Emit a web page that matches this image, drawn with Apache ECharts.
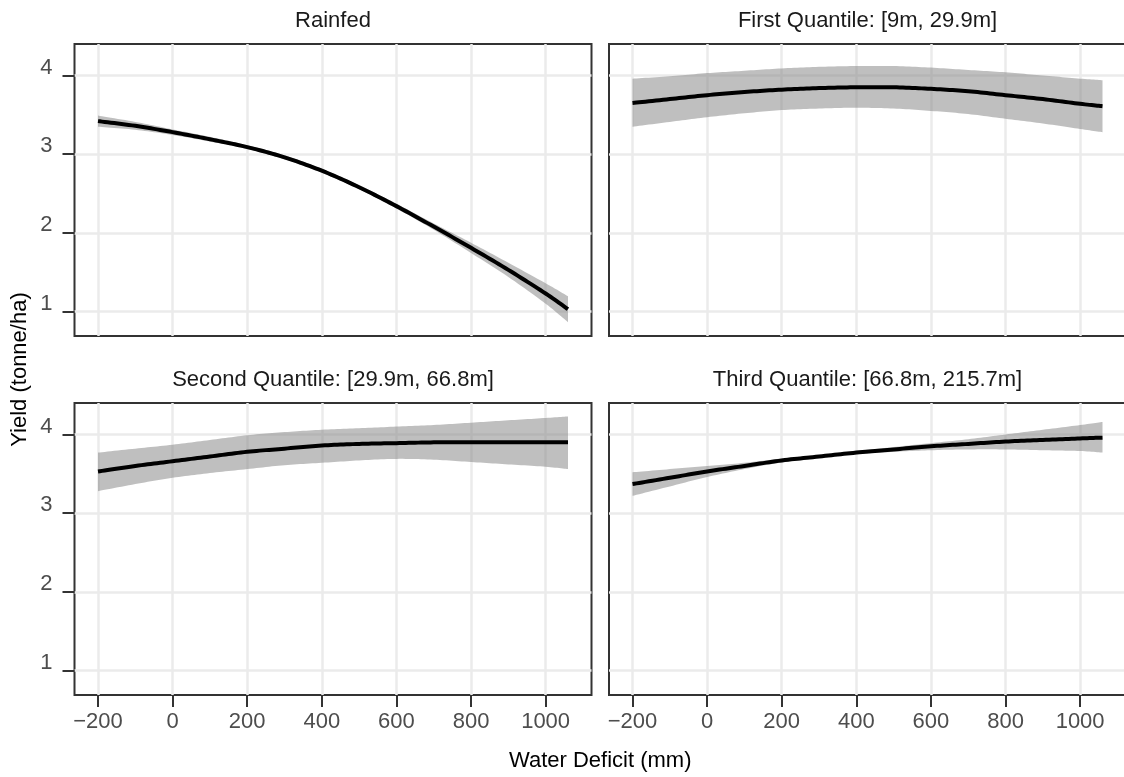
<!DOCTYPE html>
<html>
<head>
<meta charset="utf-8">
<script src="https://cdn.jsdelivr.net/npm/echarts@6/dist/echarts.min.js"></script>
<style>
html,body{margin:0;padding:0;background:#fff;}
#chart{width:1124px;height:777px;}
</style>
</head>
<body>
<div id="chart"></div>
<script>
// ---- data ----
const xValues = [-200,-100,0,100,200,300,400,500,600,700,800,900,1000,1060];
const panelTitles = ["Rainfed","First Quantile: [9m, 29.9m]","Second Quantile: [29.9m, 66.8m]","Third Quantile: [66.8m, 215.7m]"];
const xTicks = [-200,0,200,400,600,800,1000];
const yTicks = [1,2,3,4];

const fitRainfed = [3.42,3.36,3.28,3.19,3.09,2.96,2.79,2.58,2.34,2.08,1.81,1.53,1.23,1.03];
const loRainfed  = [3.35,3.31,3.245,3.16,3.065,2.935,2.765,2.555,2.31,2.04,1.745,1.44,1.10,0.865];
const hiRainfed  = [3.49,3.41,3.315,3.22,3.115,2.985,2.815,2.605,2.37,2.12,1.875,1.62,1.36,1.195];

const fitFirst = [3.65,3.70,3.75,3.79,3.82,3.84,3.85,3.85,3.83,3.80,3.75,3.70,3.64,3.61];
const loFirst  = [3.35,3.41,3.47,3.52,3.56,3.58,3.59,3.58,3.55,3.51,3.45,3.39,3.32,3.28];
const hiFirst  = [3.96,3.99,4.03,4.06,4.09,4.11,4.12,4.12,4.10,4.07,4.04,4.00,3.96,3.94];

const fitSecond = [3.53,3.60,3.66,3.72,3.78,3.82,3.86,3.88,3.89,3.90,3.90,3.90,3.90,3.90];
const loSecond  = [3.28,3.37,3.45,3.51,3.56,3.61,3.64,3.67,3.69,3.68,3.65,3.62,3.59,3.56];
const hiSecond  = [3.77,3.82,3.87,3.93,3.99,4.03,4.06,4.08,4.10,4.12,4.15,4.18,4.21,4.23];

const fitThird = [3.37,3.45,3.53,3.60,3.67,3.72,3.77,3.81,3.85,3.88,3.91,3.93,3.95,3.96];
const loThird  = [3.22,3.34,3.46,3.56,3.645,3.70,3.75,3.78,3.80,3.81,3.81,3.80,3.79,3.77];
const hiThird  = [3.52,3.56,3.60,3.64,3.695,3.74,3.79,3.84,3.89,3.94,4.00,4.06,4.12,4.16];

const fits = [fitRainfed, fitFirst, fitSecond, fitThird];
const los = [loRainfed, loFirst, loSecond, loThird];
const his = [hiRainfed, hiFirst, hiSecond, hiThird];

// ---- layout ----
const FONT = "'Liberation Sans', Arial, sans-serif";
const grids = [
  {left:74.5, top:44, width:517, height:292},
  {left:609, top:44, width:517, height:292},
  {left:74.5, top:403, width:517, height:292},
  {left:609, top:403, width:517, height:292}
];
const fmt = v => v < 0 ? '\u2212' + Math.abs(v) : String(v);

// Catmull-Rom sampling of pixel points (rendering geometry only)
function spline(pts, steps) {
  const out = [pts[0]];
  for (let i = 0; i < pts.length - 1; i++) {
    const p0 = pts[Math.max(i - 1, 0)], p1 = pts[i], p2 = pts[i + 1], p3 = pts[Math.min(i + 2, pts.length - 1)];
    for (let s = 1; s <= steps; s++) {
      const t = s / steps, t2 = t * t, t3 = t2 * t;
      const f = k => 0.5 * (2 * p1[k] + (-p0[k] + p2[k]) * t + (2 * p0[k] - 5 * p1[k] + 4 * p2[k] - p3[k]) * t2 + (-p0[k] + 3 * p1[k] - 3 * p2[k] + p3[k]) * t3);
      out.push([f(0), f(1)]);
    }
  }
  return out;
}

const option = {
  animation:false,
  backgroundColor:'#ffffff',
  grid: grids.map(g => Object.assign({show:true, borderColor:'#333333', borderWidth:2, backgroundColor:'transparent', containLabel:false, outerBoundsMode:'none'}, g)),
  xAxis: grids.map((g,i) => ({
    type:'value', gridIndex:i, min:-263, max:1123, minInterval:200, maxInterval:200, splitNumber:7,
    axisLine:{show:false, onZero:false},
    axisTick:{show: i>=2, length:12, lineStyle:{color:'#333333', width:2}, customValues:xTicks},
    axisLabel:{show: i>=2, customValues:xTicks, fontSize:22, fontFamily:FONT, color:'#4d4d4d', margin:16, formatter:fmt},
    splitLine:{show:true, lineStyle:{color:'#ebebeb', width:2.5}}
  })),
  yAxis: grids.map((g,i) => ({
    type:'value', gridIndex:i, min:0.69, max:4.40, minInterval:1, maxInterval:1,
    axisLine:{show:false, onZero:false},
    axisTick:{show: i%2===0, length:12, lineStyle:{color:'#333333', width:2}, customValues:yTicks},
    axisLabel:{show: i%2===0, customValues:yTicks, fontSize:22, fontFamily:FONT, color:'#4d4d4d', margin:22, verticalAlign:'bottom', lineHeight:16},
    splitLine:{show:true, lineStyle:{color:'#ebebeb', width:2.5}}
  })),
  series: [],
  graphic: []
};

for (let i = 0; i < 4; i++) {
  const lo = los[i], hi = his[i], fit = fits[i];
  // confidence band
  option.series.push({
    type:'custom', xAxisIndex:i, yAxisIndex:i, silent:true, z:2,
    encode:{x:0, y:[1,2]},
    data: xValues.map((x,k)=>[x, lo[k], hi[k]]),
    renderItem: function(params, api) {
      if (params.dataIndex !== 0) return null;
      const upper = [], lower = [];
      for (let k = 0; k < xValues.length; k++) {
        upper.push(api.coord([api.value(0, k), api.value(2, k)]));
        lower.push(api.coord([api.value(0, k), api.value(1, k)]));
      }
      const pts = spline(upper, 12).concat(spline(lower.reverse(), 12));
      return {type:'polygon', shape:{points:pts}, style:{fill:'rgba(128,128,128,0.5)', stroke:null}};
    }
  });
  // fitted line
  option.series.push({
    type:'custom', xAxisIndex:i, yAxisIndex:i, silent:true, z:3,
    encode:{x:0, y:1},
    data: xValues.map((x,k)=>[x, fit[k]]),
    renderItem: function(params, api) {
      if (params.dataIndex !== 0) return null;
      const pts = [];
      for (let k = 0; k < xValues.length; k++) pts.push(api.coord([api.value(0, k), api.value(1, k)]));
      return {type:'polyline', shape:{points: spline(pts, 12)}, style:{stroke:'#000000', lineWidth:4, fill:null, lineJoin:'round'}};
    }
  });
  const g = grids[i];
  option.graphic.push({
    type:'text', x: g.left + g.width/2, y: g.top - 23,
    style:{text: panelTitles[i], font: '22px ' + FONT, fill:'#1a1a1a', textAlign:'center', textVerticalAlign:'middle'}
  });
}
option.graphic.push({
  type:'text', x: (grids[0].left + grids[1].left + grids[1].width)/2, y: 761,
  style:{text:'Water Deficit (mm)', font:'22px ' + FONT, fill:'#000000', textAlign:'center', textVerticalAlign:'middle'}
});
option.graphic.push({
  type:'text', x: 20, y: (grids[0].top + grids[2].top + grids[2].height)/2, rotation: Math.PI/2,
  style:{text:'Yield (tonne/ha)', font:'22px ' + FONT, fill:'#000000', textAlign:'center', textVerticalAlign:'middle'}
});

const chart = echarts.init(document.getElementById('chart'), null, {renderer:'canvas'});
chart.setOption(option);
</script>
</body>
</html>
